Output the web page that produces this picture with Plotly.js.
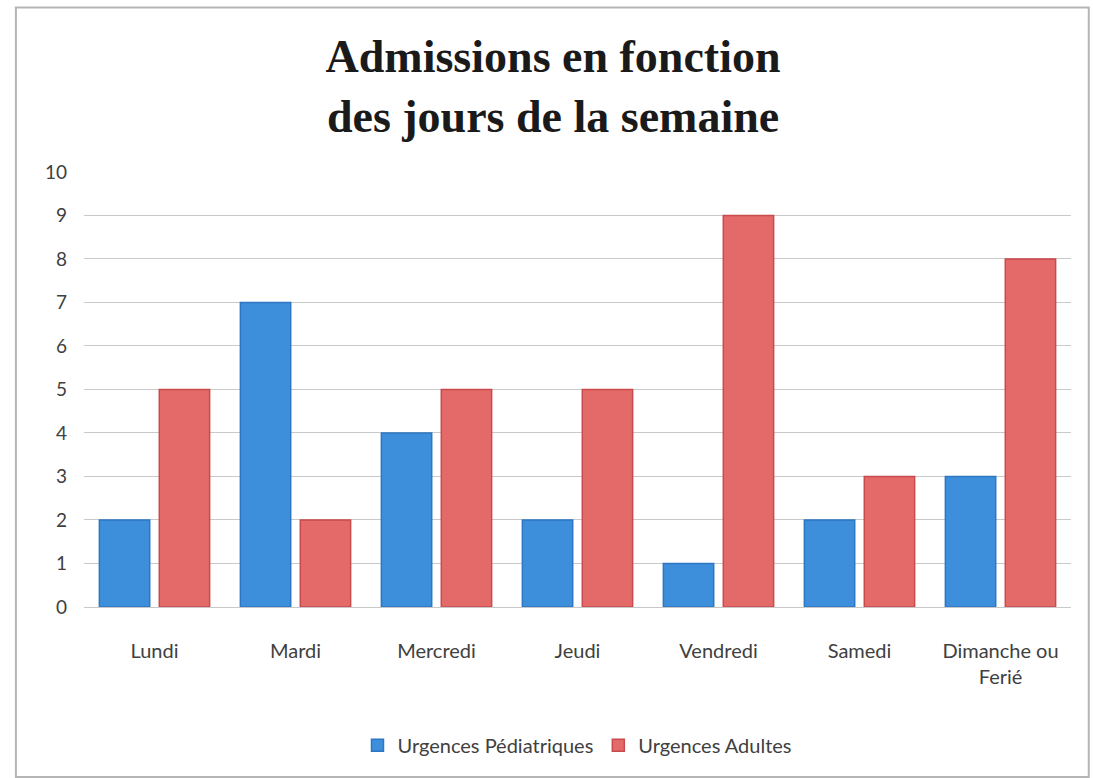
<!DOCTYPE html>
<html><head><meta charset="utf-8">
<script src="https://cdn.plot.ly/plotly-3.0.1.min.js"></script>
<style>html,body{margin:0;padding:0;background:#fff}#chart{width:1093px;height:778px}</style>
</head><body><div id="chart"></div>
<script>
var categories = ["Lundi", "Mardi", "Mercredi", "Jeudi", "Vendredi", "Samedi", "Dimanche ou<br>Ferié"];
var pediatriques = [2, 7, 4, 2, 1, 2, 3];
var adultes = [5, 2, 5, 5, 9, 3, 8];
var seriesNames = ["Urgences Pédiatriques", "Urgences Adultes"];
var yTicks = [0,1,2,3,4,5,6,7,8,9,10];

var tickFont = {family: "Lato, 'Open Sans', sans-serif", size: 20, color: "#404040"};
var data = [
  {type: "bar", x: categories, y: pediatriques, name: seriesNames[0],
   marker: {color: "#3d8fdb", line: {color: "#2c76c2", width: 1.5}}},
  {type: "bar", x: categories, y: adultes, name: seriesNames[1],
   marker: {color: "#e46a6a", line: {color: "#c94a4c", width: 1.5}}}
];
var layout = {
  width: 1093, height: 778,
  paper_bgcolor: "#ffffff", plot_bgcolor: "#ffffff",
  margin: {l: 84, r: 22, t: 171, b: 171},
  title: {text: "<b>Admissions en fonction<br>des jours de la semaine</b>",
    font: {family: "'Liberation Serif', 'DejaVu Serif', serif", size: 46, color: "#1a1a1a"},
    x: 0.506, xanchor: "center", y: 0.907, yanchor: "top"},
  barmode: "group", bargap: 0.15, bargroupgap: 0.16,
  xaxis: {type: "category", tickfont: tickFont, showline: true, linecolor: "#c8c8c8", linewidth: 1,
    ticks: "", ticklen: 0, automargin: false, showgrid: false, ticklabelstandoff: 26},
  yaxis: {range: [0, 10.02], tickvals: yTicks, tickfont: {family: tickFont.family, size: 19, color: "#404040"},
    showgrid: true, gridcolor: "#c9c9c9",
    gridwidth: 1, zeroline: false, ticks: "", ticklabelstandoff: 16, automargin: false},
  showlegend: true,
  legend: {orientation: "h", x: 0.5, xanchor: "center", y: -0.317, yanchor: "middle",
    font: {family: "Lato, 'Open Sans', sans-serif", size: 20, color: "#404040"},
    itemwidth: 30, traceorder: "normal"},
  shapes: [{type: "rect", xref: "paper", yref: "paper", x0: -0.069, x1: 1.018, y0: -0.39, y1: 1.375,
    line: {color: "#b5b5b5", width: 2}, fillcolor: "rgba(0,0,0,0)"}]
};
Plotly.newPlot("chart", data, layout, {displayModeBar: false, staticPlot: true});
</script></body></html>
